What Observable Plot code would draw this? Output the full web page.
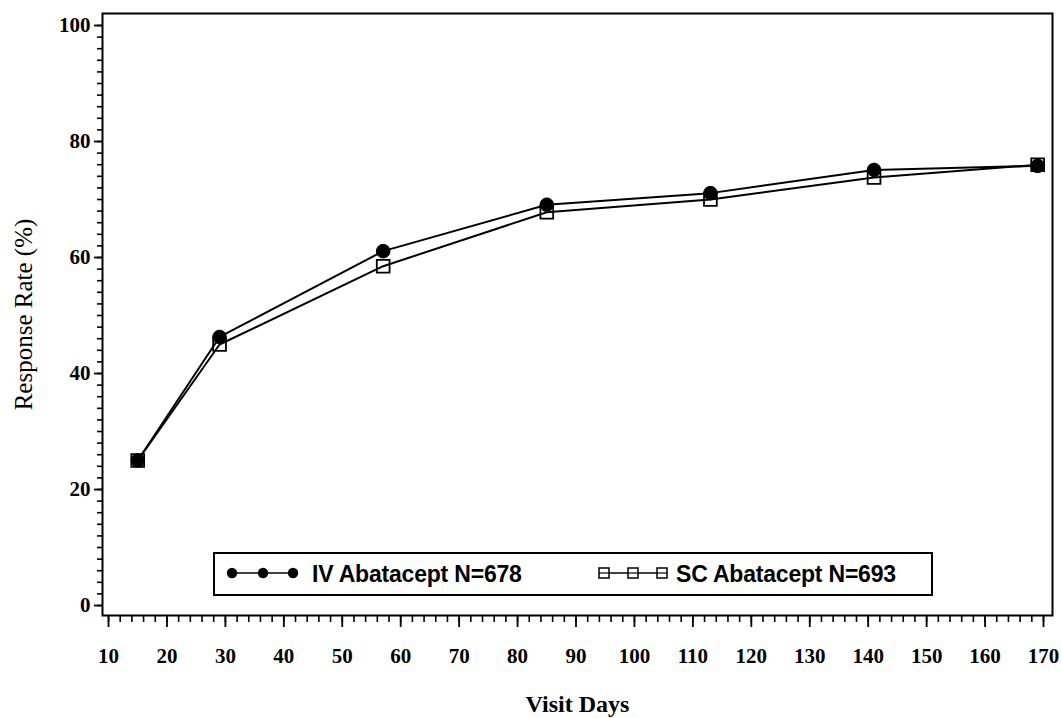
<!DOCTYPE html>
<html>
<head>
<meta charset="utf-8">
<script src="https://cdn.jsdelivr.net/npm/d3@7"></script>
<script src="https://cdn.jsdelivr.net/npm/@observablehq/plot@0.6"></script>
<style>
  html, body { margin: 0; padding: 0; background: #fff; }
  #wrap { position: relative; width: 1062px; height: 718px; overflow: hidden; }
  #legend { position: absolute; left: 213px; top: 552px; width: 720px; height: 44px;
    border: 2px solid #000; background: #fff; box-sizing: border-box; }
  #legend svg { position: absolute; left: 0; top: 0; }
  .ltxt { position: absolute; top: 6px; font-family: "Liberation Sans", Arial, sans-serif;
    font-weight: bold; font-size: 23px; line-height: 28px; color: #000; white-space: nowrap; letter-spacing: -0.2px; }
</style>
</head>
<body>
<div id="wrap"></div>
<script>
// ---- data ----
const visitDays = [15, 29, 57, 85, 113, 141, 169];
const ivRate = [25, 46.3, 61.1, 69.1, 71.1, 75.1, 75.8];
const scRate = [25, 45.0, 58.5, 67.8, 70.0, 73.8, 76.0];
const ivLabel = "IV Abatacept N=678";
const scLabel = "SC Abatacept N=693";
const xTicks = [10, 20, 30, 40, 50, 60, 70, 80, 90, 100, 110, 120, 130, 140, 150, 160, 170];
const yTicks = [0, 20, 40, 60, 80, 100];
const xMinor = d3.range(10, 171, 2);
const yMinor = d3.range(0, 101, 2);

const iv = visitDays.map((d, i) => ({day: d, rate: ivRate[i]}));
const sc = visitDays.map((d, i) => ({day: d, rate: scRate[i]}));

const serif = '"Liberation Serif", "Times New Roman", serif';

const chart = Plot.plot({
  width: 1062,
  height: 718,
  marginLeft: 102,
  marginRight: 10,
  marginTop: 13,
  marginBottom: 103,
  style: {background: "#fff", color: "#000", fontFamily: serif, fontSize: "21px", overflow: "visible"},
  x: {domain: [8.97, 171.54]},
  y: {domain: [-1.72, 102.07]},
  marks: [
    Plot.frame({stroke: "#000", strokeWidth: 2}),
    Plot.axisX({ticks: xMinor, tickSize: 7, tickFormat: () => "", label: null, strokeWidth: 1.6}),
    Plot.axisX({ticks: xTicks, tickSize: 12, tickPadding: 21, strokeWidth: 1.8,
      fontWeight: "bold", fontSize: 21,
      label: "Visit Days", labelAnchor: "center", labelArrow: "none", labelOffset: 96}),
    Plot.axisY({ticks: yMinor, tickSize: 5, tickFormat: () => "", label: null, strokeWidth: 1.6}),
    Plot.axisY({ticks: yTicks, tickSize: 8, tickPadding: 4, strokeWidth: 1.8,
      fontWeight: "bold", fontSize: 21,
      label: "Response Rate (%)", labelAnchor: "center", labelArrow: "none", labelOffset: 88}),
    Plot.line(iv, {x: "day", y: "rate", stroke: "#000", strokeWidth: 2}),
    Plot.line(sc, {x: "day", y: "rate", stroke: "#000", strokeWidth: 2}),
    Plot.dot(iv, {x: "day", y: "rate", r: 6.8, fill: "#000", stroke: "#000", strokeWidth: 1}),
    Plot.dot(sc, {x: "day", y: "rate", r: 7.2, symbol: "square", fill: "none", stroke: "#000", strokeWidth: 1.8})
  ]
});
document.getElementById("wrap").appendChild(chart);

// style axis label text
d3.select(chart).selectAll("g[aria-label='x-axis label'] text")
  .style("font-weight", "bold").style("font-size", "24px");
d3.select(chart).selectAll("g[aria-label='y-axis label'] text")
  .style("font-weight", "normal").style("font-size", "25px");

// ---- legend ----
const legend = d3.select("#wrap").append("div").attr("id", "legend");
const ls = legend.append("svg").attr("width", 716).attr("height", 40);
const y0 = 19;
const ivX = [17, 48, 78];
const scX = [389, 418, 447];
ls.append("line").attr("x1", ivX[0]).attr("x2", ivX[2]).attr("y1", y0).attr("y2", y0)
  .attr("stroke", "#000").attr("stroke-width", 1.5);
ivX.forEach(x => ls.append("circle").attr("cx", x).attr("cy", y0).attr("r", 5.2).attr("fill", "#000"));
ls.append("line").attr("x1", scX[0]).attr("x2", scX[2]).attr("y1", y0).attr("y2", y0)
  .attr("stroke", "#000").attr("stroke-width", 1.5);
scX.forEach(x => ls.append("rect").attr("x", x - 5).attr("y", y0 - 5).attr("width", 10).attr("height", 10)
  .attr("fill", "#fff").attr("stroke", "#000").attr("stroke-width", 1.5));
scX.forEach(x => ls.append("line").attr("x1", x - 5).attr("x2", x + 5).attr("y1", y0).attr("y2", y0)
  .attr("stroke", "#000").attr("stroke-width", 1.2));
legend.append("div").attr("class", "ltxt").style("left", "97px").text(ivLabel);
legend.append("div").attr("class", "ltxt").style("left", "461px").text(scLabel);
</script>
</body>
</html>
